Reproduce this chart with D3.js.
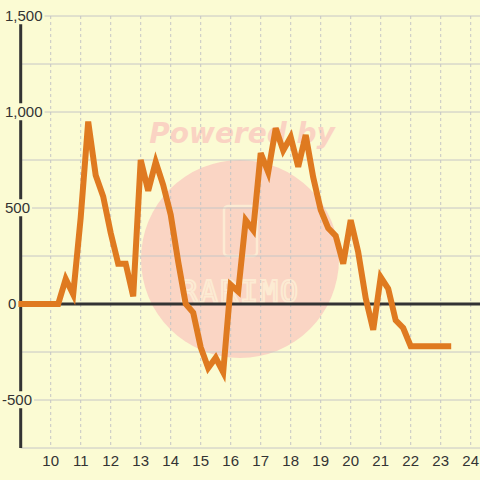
<!DOCTYPE html>
<html>
<head>
<meta charset="utf-8">
<script src="https://d3js.org/d3.v7.min.js"></script>
<style>
    body { margin: 0; background: #fbfbd3; }
    svg { display: block; }
    .tick-label { font-family: "Liberation Sans", Arial, sans-serif; font-size: 15px; fill: #333; }
</style>
</head>
<body>
<div id="chart"></div>
<script>
// Hours of the day (quarter-hour steps) and the value at each
const hours = [
    9.00, 9.25, 9.50, 9.75, 10.00, 10.25, 10.50, 10.75, 11.00, 11.25,
    11.50, 11.75, 12.00, 12.25, 12.50, 12.75, 13.00, 13.25, 13.50, 13.75,
    14.00, 14.25, 14.50, 14.75, 15.00, 15.25, 15.50, 15.75, 16.00, 16.25,
    16.50, 16.75, 17.00, 17.25, 17.50, 17.75, 18.00, 18.25, 18.50, 18.75,
    19.00, 19.25, 19.50, 19.75, 20.00, 20.25, 20.50, 20.75, 21.00, 21.25,
    21.50, 21.75, 22.00, 22.25, 22.50, 22.75, 23.00, 23.25
];
const values = [
    0, 0, 0, 0, 0, 0, 130, 50, 450, 950,
    670, 560, 370, 210, 210, 40, 750, 590, 740, 620,
    465, 220, 0, -45, -225, -333, -280, -355, 100, 65,
    437, 385, 786, 687, 915, 800, 870, 715, 880, 660,
    490, 395, 355, 210, 437, 270, 30, -135, 140, 80,
    -85, -125, -220, -220, -220, -220, -220, -220
];
const xTicks = [10, 11, 12, 13, 14, 15, 16, 17, 18, 19, 20, 21, 22, 23, 24];
const yGrid = [-750, -500, -250, 0, 250, 500, 750, 1000, 1250, 1500];
const yLabels = [-500, 0, 500, 1000, 1500];

const W = 480, H = 480;
const bg = '#fbfbd3';

const svg = d3.select('#chart').append('svg')
    .attr('width', W)
    .attr('height', H);

svg.append('rect').attr('width', W).attr('height', H).attr('fill', bg);

const x = d3.scaleLinear().domain([9, 24.3]).range([20.7, 479.7]);
const y = d3.scaleLinear().domain([-750, 1500]).range([448, 16]);

// watermark sits under the grid
const wm = svg.append('g');
wm.append('circle')
    .attr('cx', 240).attr('cy', 259).attr('r', 99)
    .attr('fill', '#fad5c4');
wm.append('text')
    .attr('x', 242).attr('y', 143)
    .attr('text-anchor', 'middle')
    .attr('font-family', 'DejaVu Sans')
    .attr('font-weight', 'bold')
    .attr('font-style', 'italic')
    .attr('font-size', 28)
    .attr('fill', '#fad3c3')
    .text('Powered by');
wm.append('rect')
    .attr('x', 224).attr('y', 206).attr('width', 33).attr('height', 50).attr('rx', 4)
    .attr('fill', 'none').attr('stroke', '#fcebd3').attr('stroke-width', 2.5);
wm.append('text')
    .attr('x', 240).attr('y', 302)
    .attr('text-anchor', 'middle')
    .attr('font-family', 'DejaVu Sans Mono')
    .attr('font-size', 30)
    .attr('letter-spacing', 2)
    .attr('fill', 'none').attr('stroke', '#fcebd3').attr('stroke-width', 2)
    .text('RARIMO');

// grid
svg.append('g')
    .selectAll('line')
    .data(yGrid)
    .join('line')
    .attr('x1', x(9)).attr('x2', W)
    .attr('y1', d => y(d)).attr('y2', d => y(d))
    .attr('stroke', '#c6c6c6').attr('stroke-width', 1);

svg.append('g')
    .selectAll('line')
    .data(xTicks)
    .join('line')
    .attr('x1', d => x(d)).attr('x2', d => x(d))
    .attr('y1', y(1500)).attr('y2', y(-750))
    .attr('stroke', '#c6c6c6').attr('stroke-width', 1)
    .attr('stroke-dasharray', '3,3');

// zero line and left axis
svg.append('line')
    .attr('x1', x(9)).attr('x2', W)
    .attr('y1', y(0)).attr('y2', y(0))
    .attr('stroke', '#333').attr('stroke-width', 3);
svg.append('line')
    .attr('x1', x(9)).attr('x2', x(9))
    .attr('y1', y(1500)).attr('y2', y(-750))
    .attr('stroke', '#333').attr('stroke-width', 3);

// series
const line = d3.line()
    .x((d, i) => x(hours[i]))
    .y(d => y(d));

svg.append('path')
    .datum(values)
    .attr('d', line)
    .attr('fill', 'none')
    .attr('stroke', '#df7a20')
    .attr('stroke-width', 6)
    .attr('stroke-linecap', 'square')
    .attr('stroke-linejoin', 'miter');

// y labels, each on a little background box that cuts the axis
const fmt = d => d3.format(',')(d).replace('\u2212', '-');
const yl = svg.append('g').selectAll('g').data(yLabels).join('g');
yl.append('text')
    .attr('class', 'tick-label')
    .attr('x', d => d === 0 ? 8 : d < 0 ? 2 : 5)
    .attr('y', d => y(d))
    .attr('dy', '0.35em')
    .text(d => fmt(d));
yl.each(function () {
    const t = d3.select(this).select('text');
    const b = t.node().getBBox();
    d3.select(this).insert('rect', 'text')
        .attr('x', b.x - 1).attr('y', b.y)
        .attr('width', b.width + 3).attr('height', b.height)
        .attr('fill', bg);
});

// x labels
svg.append('g').selectAll('text')
    .data(xTicks)
    .join('text')
    .attr('class', 'tick-label')
    .attr('x', d => x(d))
    .attr('y', 466)
    .attr('text-anchor', 'middle')
    .text(d => d);
</script>
</body>
</html>
